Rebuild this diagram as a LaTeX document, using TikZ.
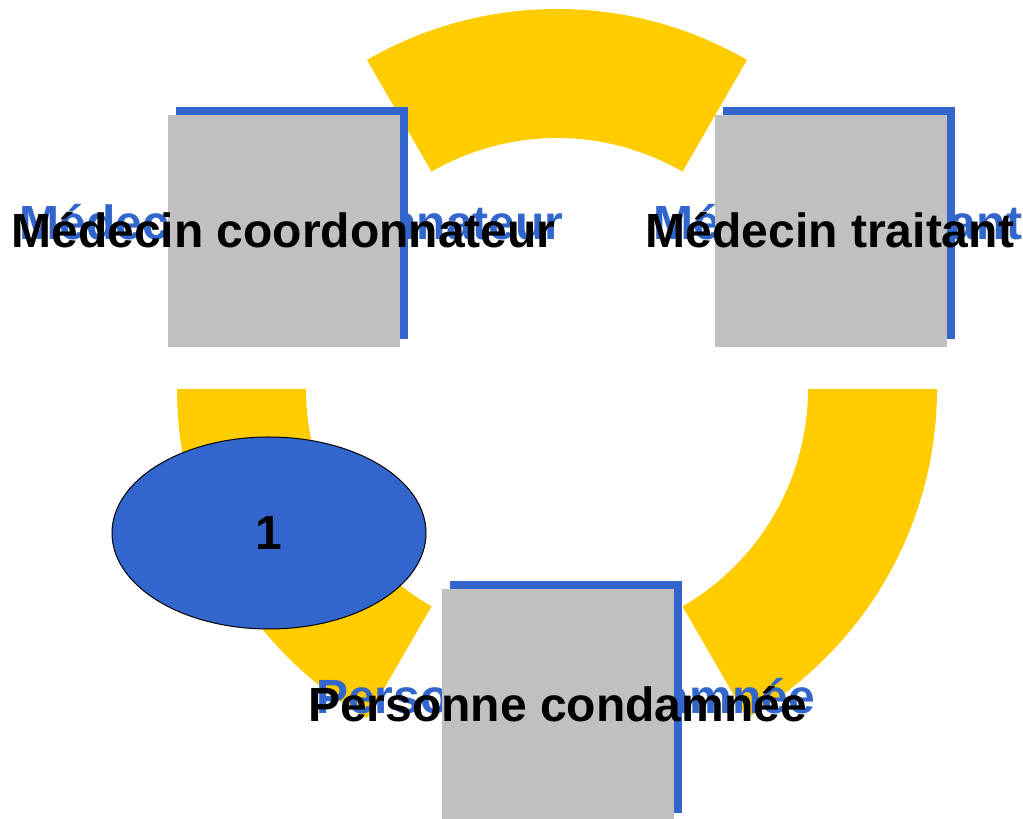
\documentclass[tikz,border=0pt]{standalone}
\usepackage{fontspec}
\setmainfont{Liberation Sans}
\usetikzlibrary{shapes.geometric}
\definecolor{ringyellow}{HTML}{FFCC00}
\definecolor{shadeblue}{HTML}{3366CC}
\definecolor{boxgray}{HTML}{C0C0C0}
\tikzset{
  ringseg/.style={fill=ringyellow, draw=none},
  shadowbox/.style={rectangle, fill=shadeblue, draw=none, minimum width=232pt, minimum height=232pt, inner sep=0pt},
  graybox/.style={rectangle, fill=boxgray, draw=none, minimum width=232pt, minimum height=232pt, inner sep=0pt},
  labeltext/.style={anchor=base, inner sep=0pt, font=\fontsize{48}{57}\selectfont\bfseries, text=black},
  shadowtext/.style={anchor=base, inner sep=0pt, font=\fontsize{48}{57}\selectfont\bfseries, text=shadeblue},
  stepoval/.style={ellipse, fill=shadeblue, draw=black, line width=1pt, minimum width=314pt, minimum height=192pt, inner sep=0pt, font=\fontsize{48}{57}\selectfont\bfseries, text=black}
}
\begin{document}
\begin{tikzpicture}[x=1pt,y=1pt]
\useasboundingbox (0,0) rectangle (1023,819);
% ring segments
\begin{scope}[shift={(557,430)}]
  \fill[ringseg] (60:380) arc[start angle=60, end angle=120, radius=380] -- (120:251) arc[start angle=120, end angle=60, radius=251] -- cycle;
  \fill[ringseg] (0:380) arc[start angle=0, end angle=-60, radius=380] -- (-60:251) arc[start angle=-60, end angle=0, radius=251] -- cycle;
  \fill[ringseg] (180:380) arc[start angle=180, end angle=240, radius=380] -- (240:251) arc[start angle=240, end angle=180, radius=251] -- cycle;
\end{scope}
% ellipse
\node[stepoval] (one) at (269,286) {1};
% shadow boxes
\node[shadowbox] (tlshadow) at (292,596) {};
\node[shadowbox] (trshadow) at (839,596) {};
\node[shadowbox] (bshadow) at (566,122) {};
% shadow texts
\node[shadowtext] (tltextshadow) at (291.5,579) {Médecin coordonnateur};
\node[shadowtext] (trtextshadow) at (838,579) {Médecin traitant};
\node[shadowtext] (btextshadow) at (565.5,105) {Personne condamnée};
% gray boxes
\node[graybox] (coord) at (284,588) {};
\node[graybox] (traitant) at (831,588) {};
\node[graybox] (personne) at (558,114) {};
% labels
\node[labeltext] (tltext) at (283.5,571) {Médecin coordonnateur};
\node[labeltext] (trtext) at (830,571) {Médecin traitant};
\node[labeltext] (btext) at (557.5,97) {Personne condamnée};
\end{tikzpicture}
\end{document}
